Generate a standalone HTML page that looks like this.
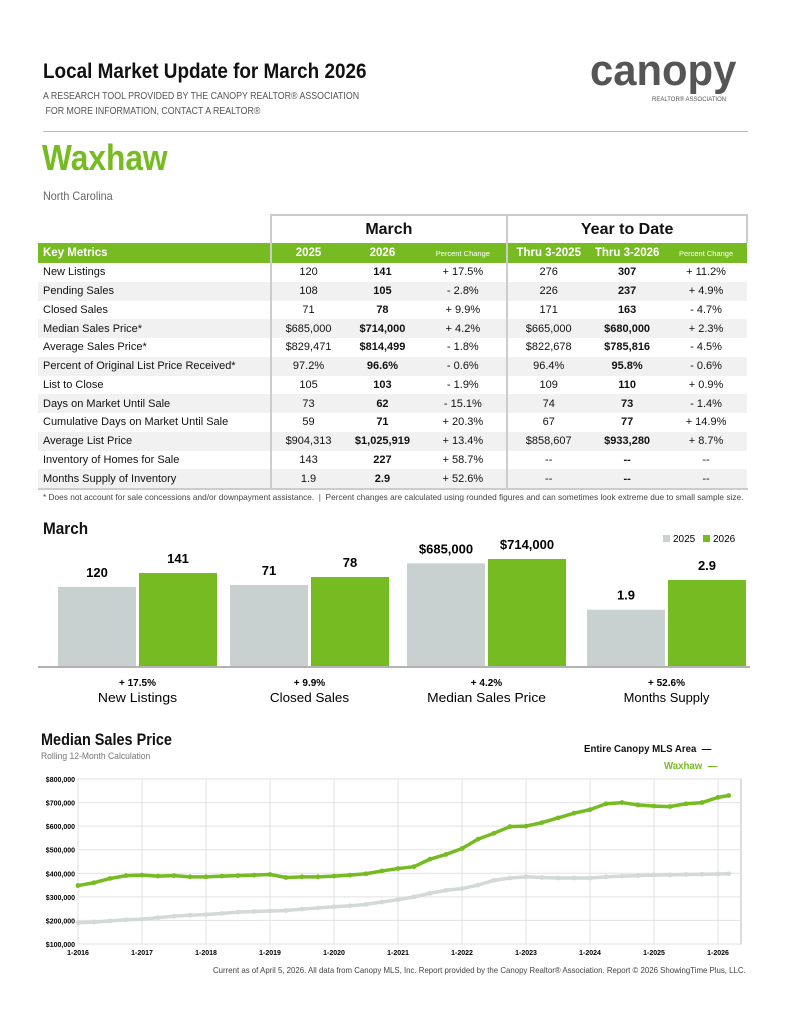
<!DOCTYPE html>
<html><head><meta charset="utf-8"><style>
body{margin:0;width:791px;height:1024px;background:#fff;font-family:"Liberation Sans",Arial,sans-serif;position:relative;overflow:hidden;color:#111}
.a{position:absolute;white-space:nowrap}
table{position:absolute;left:38px;top:214px;width:710px;border-collapse:collapse;font-size:11px}
td{height:18.75px;padding:0;text-align:center}
td.l{text-align:left;padding-left:5px}
tr.g td{background:#f1f1f1}
tr.h td{background:#76bb22;color:#fff;font-weight:bold;height:20px;font-size:11.5px}
tr.h td.s{font-size:7.5px;font-weight:normal}
tr.t td{height:27px;font-size:16px;font-weight:bold}
.bl{border-left:2px solid #ccc}
b{font-weight:bold}
.c{transform-origin:left center}
</style></head><body>
<div class="a c" style="left:43px;top:60px;font-size:21px;font-weight:bold;transform:scaleX(.9)">Local Market Update for March 2026</div>
<div class="a c" style="left:43px;top:89px;font-size:10.5px;color:#555;line-height:15px;transform:scaleX(.84)">A RESEARCH TOOL PROVIDED BY THE CANOPY REALTOR® ASSOCIATION<br>&nbsp;FOR MORE INFORMATION, CONTACT A REALTOR®</div>
<div class="a c" style="left:590px;top:46px;font-size:44px;font-weight:bold;color:#555;transform:scaleX(.95)">canopy</div>
<div class="a" style="left:652px;top:97px;font-size:6px;color:#555">REALTOR® ASSOCIATION</div>
<div class="a" style="left:43px;top:131px;width:705px;height:1px;background:#bbb"></div>
<div class="a c" style="left:42px;top:137px;font-size:36px;font-weight:bold;color:#76bb22;transform:scaleX(.88)">Waxhaw</div>
<div class="a c" style="left:43px;top:189px;font-size:12px;color:#666;transform:scaleX(.9)">North Carolina</div>
<table>
<colgroup><col style="width:233px"><col style="width:75px"><col style="width:74px"><col style="width:88px"><col style="width:82px"><col style="width:76px"><col style="width:82px"></colgroup>
<tr class="t"><td></td><td colspan="3" class="bl" style="border-top:2px solid #ccc">March</td><td colspan="3" class="bl" style="border-top:2px solid #ccc;border-right:2px solid #ccc">Year to Date</td></tr>
<tr class="h"><td class="l">Key Metrics</td><td class="bl">2025</td><td>2026</td><td class="s">Percent Change</td><td class="bl">Thru 3-2025</td><td>Thru 3-2026</td><td class="s">Percent Change</td></tr>
<tr><td class="l">New Listings</td><td class="bl">120</td><td><b>141</b></td><td>+ 17.5%</td><td class="bl">276</td><td><b>307</b></td><td>+ 11.2%</td></tr>
<tr class="g"><td class="l">Pending Sales</td><td class="bl">108</td><td><b>105</b></td><td>- 2.8%</td><td class="bl">226</td><td><b>237</b></td><td>+ 4.9%</td></tr>
<tr><td class="l">Closed Sales</td><td class="bl">71</td><td><b>78</b></td><td>+ 9.9%</td><td class="bl">171</td><td><b>163</b></td><td>- 4.7%</td></tr>
<tr class="g"><td class="l">Median Sales Price*</td><td class="bl">$685,000</td><td><b>$714,000</b></td><td>+ 4.2%</td><td class="bl">$665,000</td><td><b>$680,000</b></td><td>+ 2.3%</td></tr>
<tr><td class="l">Average Sales Price*</td><td class="bl">$829,471</td><td><b>$814,499</b></td><td>- 1.8%</td><td class="bl">$822,678</td><td><b>$785,816</b></td><td>- 4.5%</td></tr>
<tr class="g"><td class="l">Percent of Original List Price Received*</td><td class="bl">97.2%</td><td><b>96.6%</b></td><td>- 0.6%</td><td class="bl">96.4%</td><td><b>95.8%</b></td><td>- 0.6%</td></tr>
<tr><td class="l">List to Close</td><td class="bl">105</td><td><b>103</b></td><td>- 1.9%</td><td class="bl">109</td><td><b>110</b></td><td>+ 0.9%</td></tr>
<tr class="g"><td class="l">Days on Market Until Sale</td><td class="bl">73</td><td><b>62</b></td><td>- 15.1%</td><td class="bl">74</td><td><b>73</b></td><td>- 1.4%</td></tr>
<tr><td class="l">Cumulative Days on Market Until Sale</td><td class="bl">59</td><td><b>71</b></td><td>+ 20.3%</td><td class="bl">67</td><td><b>77</b></td><td>+ 14.9%</td></tr>
<tr class="g"><td class="l">Average List Price</td><td class="bl">$904,313</td><td><b>$1,025,919</b></td><td>+ 13.4%</td><td class="bl">$858,607</td><td><b>$933,280</b></td><td>+ 8.7%</td></tr>
<tr><td class="l">Inventory of Homes for Sale</td><td class="bl">143</td><td><b>227</b></td><td>+ 58.7%</td><td class="bl">--</td><td><b>--</b></td><td>--</td></tr>
<tr class="g"><td class="l">Months Supply of Inventory</td><td class="bl">1.9</td><td><b>2.9</b></td><td>+ 52.6%</td><td class="bl">--</td><td><b>--</b></td><td>--</td></tr>
</table>
<div class="a" style="left:38px;top:488px;width:710px;height:2px;background:#ccc"></div>
<div class="a" style="left:43px;top:492px;font-size:8.3px;color:#444">* Does not account for sale concessions and/or downpayment assistance. &nbsp;| &nbsp;Percent changes are calculated using rounded figures and can sometimes look extreme due to small sample size.</div>
<div class="a c" style="left:43px;top:519px;font-size:17px;font-weight:bold;transform:scaleX(.9)">March</div>
<svg class="a" style="left:0;top:0" width="791" height="1024" id="svg"></svg>
<div class="a c" style="left:41px;top:730px;font-size:17px;font-weight:bold;transform:scaleX(.85)">Median Sales Price</div>
<div class="a c" style="left:41px;top:751px;font-size:9.5px;color:#777;transform:scaleX(.9)">Rolling 12-Month Calculation</div>
<div class="a c" style="left:584px;top:743px;font-size:10.5px;font-weight:bold;transform:scaleX(.92)">Entire Canopy MLS Area &nbsp;—</div>
<div class="a c" style="left:664px;top:760px;font-size:10.5px;font-weight:bold;color:#76bb22;transform:scaleX(.92)">Waxhaw &nbsp;—</div>
<div class="a" style="left:213px;top:966px;font-size:7.85px;color:#444">Current as of April 5, 2026. All data from Canopy MLS, Inc. Report provided by the Canopy Realtor® Association. Report © 2026 ShowingTime Plus, LLC.</div>
<script>
const barCategories=["New Listings","Closed Sales","Median Sales Price","Months Supply"];
const bar2025=[120,71,685000,1.9];
const bar2026=[141,78,714000,2.9];
const barLabels2025=["120","71","$685,000","1.9"];
const barLabels2026=["141","78","$714,000","2.9"];
const barPct=["+ 17.5%","+ 9.9%","+ 4.2%","+ 52.6%"];
const yearTicks=["1-2016","1-2017","1-2018","1-2019","1-2020","1-2021","1-2022","1-2023","1-2024","1-2025","1-2026"];
const priceTicks=[100000,200000,300000,400000,500000,600000,700000,800000];
// quarterly rolling median (thousands), Jan 2016 .. Jan 2026, then Mar 2026
const waxhaw=[348,360,378,390,392,388,390,385,385,388,390,392,395,382,385,385,388,392,398,410,420,428,460,480,505,545,570,598,600,615,635,655,670,695,700,690,685,683,695,700,722,730];
const canopy=[190,193,198,203,205,212,218,222,225,230,235,238,240,242,248,253,258,262,268,278,288,300,315,328,335,350,370,380,385,382,380,380,380,385,388,390,392,393,395,396,397,398];
const svg=document.getElementById('svg');const NS="http://www.w3.org/2000/svg";
function mk(t,a,txt){const e=document.createElementNS(NS,t);for(const k in a)e.setAttribute(k,a[k]);if(txt!=null)e.textContent=txt;svg.appendChild(e);return e;}
// bar chart: each group uses its own scale (max bar height per group)
const base=666,groupX=[58,230,407,587],bw=78,gap=3,groupMaxH=[93,89,107,86];
const maxV=bar2025.map((v,i)=>Math.max(v,bar2026[i]));
function bh(v,i){return v/maxV[i]*groupMaxH[i];}
let ax=mk('line',{x1:38,x2:750,y1:base+1,y2:base+1,stroke:'#999','stroke-width':1.5});

barCategories.forEach((c,i)=>{
 const x0=groupX[i],h1=bh(bar2025[i],i),h2=bh(bar2026[i],i);
 let r=mk('rect',{x:x0,y:base-h1,width:bw,height:h1,fill:'#c8d1cf'});
 
 r=mk('rect',{x:x0+bw+gap,y:base-h2,width:bw,height:h2,fill:'#76bb22'});
 
 let t=mk('text',{x:x0+bw/2,y:base-h1-10,'text-anchor':'middle','font-size':13,'font-weight':'bold'},barLabels2025[i]);
 
 t=mk('text',{x:x0+bw*1.5+gap,y:base-h2-10,'text-anchor':'middle','font-size':13,'font-weight':'bold'},barLabels2026[i]);
 
 t=mk('text',{x:x0+bw+gap/2,y:base+20,'text-anchor':'middle','font-size':10,'font-weight':'bold'},barPct[i]);
 
 t=mk('text',{x:x0+bw+gap/2,y:base+36,'text-anchor':'middle','font-size':13,'textLength':c.length*6.6,'lengthAdjust':'spacingAndGlyphs'},c);
 
});
let lg=mk('rect',{x:663,y:535,width:7,height:7,fill:'#c8d1cf'});
lg=mk('text',{x:673,y:542,'font-size':10},'2025');
lg=mk('rect',{x:703,y:535,width:7,height:7,fill:'#76bb22'});
lg=mk('text',{x:713,y:542,'font-size':10},'2026');
// line chart
const L=78,R=741,T=779,B=944,x2016=78,pxYear=64;
const yS=v=>B-(v-100000)/700000*(B-T);
const xS=q=>x2016+q*pxYear/4;
let fr=mk('rect',{x:L,y:T,width:R-L,height:B-T,fill:'none',stroke:'#bbb'});
priceTicks.forEach(p=>{const y=yS(p);
 let g=mk('line',{x1:L,x2:R,y1:y,y2:y,stroke:'#e2e2e2'});
 let t=mk('text',{x:L-3,y:y+3,'text-anchor':'end','font-size':7,'font-weight':'bold'},'$'+p.toLocaleString('en-US'));});
yearTicks.forEach((yl,i)=>{const x=xS(i*4);
 let g=mk('line',{x1:x,x2:x,y1:T,y2:B,stroke:'#e2e2e2'});
 let t=mk('text',{x:x,y:B+11,'text-anchor':'middle','font-size':7,'font-weight':'bold'},yl);});
function series(d,col,name){const pts=d.map((v,i)=>[xS(i<d.length-1?i:i-1+2/3),yS(v*1000)]);
 let p=mk('polyline',{points:pts.map(p=>p.join(',')).join(' '),fill:'none',stroke:col,'stroke-width':3.5,'stroke-linejoin':'round'});
 
 pts.forEach(pt=>{let c=mk('circle',{cx:pt[0],cy:pt[1],r:2.4,fill:col});});}
series(canopy,'#d3d9d7','canopy');
series(waxhaw,'#76bb22','waxhaw');
</script>
</body></html>
